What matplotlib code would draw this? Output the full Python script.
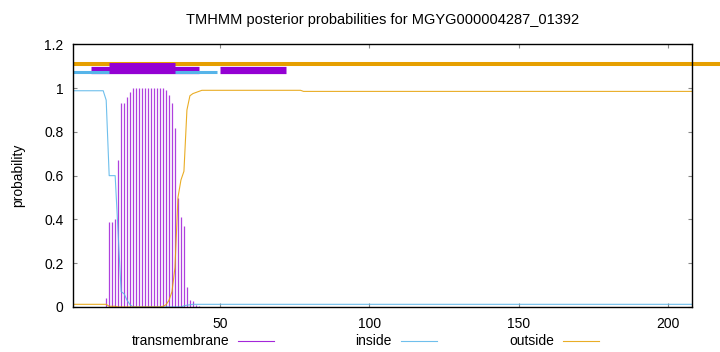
import numpy as np
import matplotlib
matplotlib.use("Agg")
import matplotlib.pyplot as plt
from matplotlib.lines import Line2D

plt.rcParams['font.family'] = ['Liberation Sans', 'DejaVu Sans']

title = "TMHMM posterior probabilities for MGYG000004287_01392"
seq_len = 208
residues = np.arange(1, seq_len + 1)

# transmembrane posterior (impulses), residues 1..208
tm_prob = ([0.0] * 11 +
           [0.04, 0.39, 0.39, 0.40, 0.67, 0.93, 0.93, 0.96, 0.98,
            1.0, 1.0, 1.0, 1.0, 1.0, 1.0, 1.0, 1.0, 1.0, 1.0, 1.0,
            0.99, 0.97, 0.93, 0.82, 0.50, 0.41, 0.37, 0.09, 0.03, 0.025,
            0.01, 0.005] +
           [0.0] * 165)
# inside posterior
inside_prob = ([0.988] * 11 +
               [0.945, 0.60, 0.60, 0.60, 0.33, 0.07, 0.06, 0.03, 0.01] +
               [0.0] * 17 +
               [0.005, 0.008, 0.01] +
               [0.012] * 168)
# outside posterior
outside_prob = ([0.012] * 11 +
                [0.012, 0.003, 0.003, 0.003] +
                [0.0] * 15 +
                [0.003, 0.01, 0.03, 0.07, 0.18, 0.50, 0.58, 0.62, 0.90, 0.965,
                 0.975, 0.98, 0.985] +
                [0.99] * 34 +
                [0.985] * 131)

# predicted topology segments (start, end)
outside_seg = [(1, 218)]
inside_seg = [(1, 49)]
tm_seg = [(7, 43), (50, 72)]
tm_core_seg = [(13, 35)]

purple = '#9400d3'
blue = '#56b4e9'
orange = '#e69f00'

fig = plt.figure(figsize=(7.2, 3.52), dpi=100)
ax = fig.add_axes([0.1018, 0.128, 0.8597, 0.746])

ax.vlines(residues, 0, tm_prob, color=purple, lw=0.9, alpha=0.75)
ax.plot(residues, inside_prob, color=blue, lw=0.8, alpha=0.85)
ax.plot(residues, outside_prob, color=orange, lw=0.8, alpha=0.85)

for s, e in outside_seg:
    ax.plot([s, e], [1.111, 1.111], color=orange, lw=2.9,
            solid_capstyle='butt', clip_on=False)
for s, e in tm_seg:
    ax.plot([s, e], [1.084, 1.084], color=purple, lw=5.2,
            solid_capstyle='butt', clip_on=False)
for s, e in inside_seg:
    ax.plot([s, e], [1.072, 1.072], color=blue, lw=2.2,
            solid_capstyle='butt', clip_on=False)
for s, e in tm_core_seg:
    ax.plot([s, e], [1.092, 1.092], color=purple, lw=7.9,
            solid_capstyle='butt', clip_on=False)

ax.set_xlim(1, seq_len)
ax.set_ylim(0, 1.2)
ax.set_xticks([50, 100, 150, 200])
ax.set_yticks([0, 0.2, 0.4, 0.6, 0.8, 1.0, 1.2])
ax.set_yticklabels(['0', '0.2', '0.4', '0.6', '0.8', '1', '1.2'])
ax.tick_params(direction='in', length=3, width=0.8, color='#888888',
               top=True, right=True, labelsize=10, pad=7)
for sp in ax.spines.values():
    sp.set_linewidth(1.0)
ax.set_ylabel('probability', fontsize=10, labelpad=14)
ax.set_title(title, fontsize=10.5, pad=15)

# legend below the axes
leg_y = 1 - 341 / 352
entries = [('transmembrane', purple, 229, 238, 274),
           ('inside', blue, 392, 401, 437),
           ('outside', orange, 554, 563, 599)]
for label, col, txt_r, l0, l1 in entries:
    fig.text(txt_r / 720, leg_y, label, ha='right', va='center', fontsize=10)
    fig.add_artist(Line2D([l0 / 720, l1 / 720], [leg_y, leg_y], color=col,
                          lw=0.8, alpha=0.85, transform=fig.transFigure))

fig.savefig('out.png', dpi=100)
